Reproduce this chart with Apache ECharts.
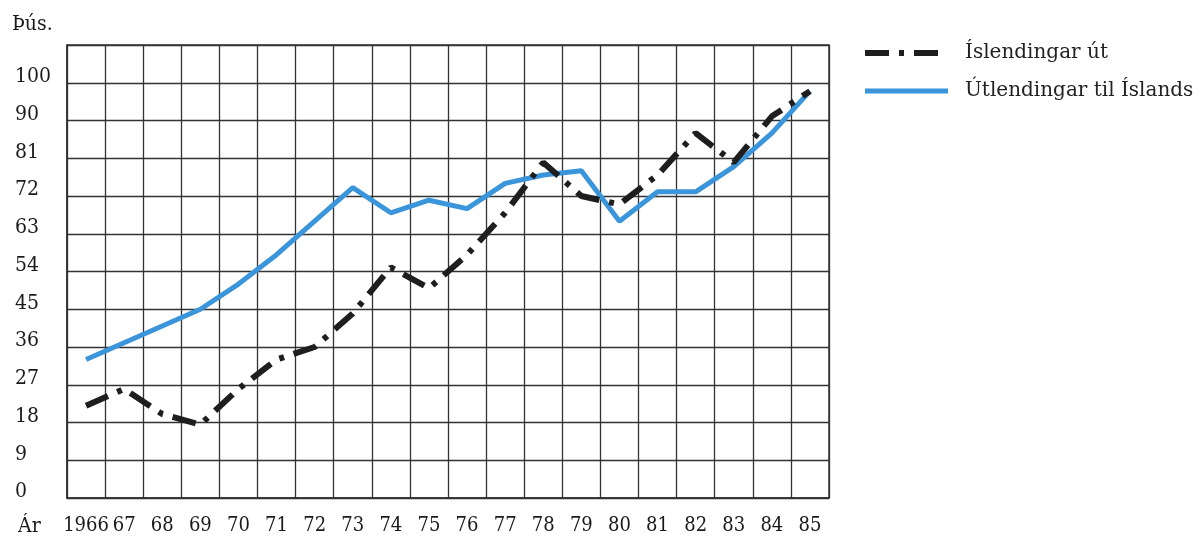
<!DOCTYPE html>
<html>
<head>
<meta charset="utf-8">
<script src="https://cdn.jsdelivr.net/npm/echarts@6/dist/echarts.min.js"></script>
<style>
  html, body { margin: 0; padding: 0; background: #fff; }
  #chart { width: 1196px; height: 539px; }
</style>
</head>
<body>
<div id="chart"></div>
<script>
// Years (x categories)
const years = ['1966','67','68','69','70','71','72','73','74','75','76','77','78','79','80','81','82','83','84','85'];
// Thousands of travellers
const islendingarUt = [22, 26, 20, 17.5, 26, 33, 36, 44, 55, 50, 58, 68, 80, 72, 70, 77, 87, 80, 91, 97];
const utlendingarTilIslands = [33, 37, 41, 45, 51, 58, 66, 74, 68, 71, 69, 75, 77, 78, 66, 73, 73, 79, 87, 97];
// Y tick labels (tick every 9 units; the top labelled tick is printed as 100)
const yTickValues = [0, 9, 18, 27, 36, 45, 54, 63, 72, 81, 90, 99, 108];
const yTickLabels = ['0', '9', '18', '27', '36', '45', '54', '63', '72', '81', '90', '100', ''];
const seriesNames = ['Íslendingar út', 'Útlendingar til Íslands'];

const serifDigits = '"DejaVu Serif Condensed", "DejaVu Serif", serif';
const serifText = '"DejaVu Serif", serif';
const gridColor = '#333';
const blackDash = [24, 10, 5, 10];

const chart = echarts.init(document.getElementById('chart'), null, { renderer: 'canvas' });
chart.setOption({
  backgroundColor: '#fff',
  animation: false,
  grid: { left: 67, right: 367, top: 45, bottom: 41, show: true, borderColor: gridColor, borderWidth: 1.5 },
  legend: {
    orient: 'vertical',
    left: 862,
    top: 43,
    padding: 0,
    itemWidth: 83,
    itemHeight: 14,
    itemGap: 18,
    itemStyle: { opacity: 0 },
    textStyle: { fontFamily: serifText, fontSize: 20, color: '#222', padding: [0, 0, 0, 12] },
    data: [
      { name: seriesNames[0], lineStyle: { width: 6, type: blackDash, color: '#1e1e1e' } },
      { name: seriesNames[1], lineStyle: { width: 5, color: '#3b95db' } }
    ]
  },
  xAxis: {
    type: 'category',
    data: years,
    boundaryGap: true,
    axisLine: { show: true, lineStyle: { color: gridColor, width: 1.5 } },
    axisTick: { show: false },
    axisLabel: { interval: 0, fontFamily: serifDigits, fontSize: 20, color: '#1a1a1a', margin: 18 },
    splitLine: { show: true, interval: 0, lineStyle: { color: gridColor, width: 1.3 } }
  },
  yAxis: {
    type: 'value',
    min: 0,
    max: 108,
    interval: 9,
    axisLine: { show: true, lineStyle: { color: gridColor, width: 1.5 } },
    axisTick: { show: false },
    axisLabel: {
      fontFamily: serifDigits, fontSize: 21, color: '#1a1a1a',
      align: 'left', margin: 52, verticalAlign: 'bottom', lineHeight: 12,
      formatter: function (v) {
        const i = yTickValues.indexOf(v);
        return i >= 0 ? yTickLabels[i] : '';
      }
    },
    splitLine: { show: true, lineStyle: { color: gridColor, width: 1.3 } }
  },
  graphic: [
    { type: 'text', left: 12, top: 14, style: { text: 'Þús.', font: '21px "DejaVu Serif Condensed", "DejaVu Serif", serif', fill: '#1a1a1a' } },
    { type: 'text', left: 18, top: 516, style: { text: 'Ár', font: '21px "DejaVu Serif Condensed", "DejaVu Serif", serif', fill: '#1a1a1a' } }
  ],
  series: [
    {
      name: seriesNames[0],
      type: 'line',
      data: islendingarUt,
      showSymbol: false,
      symbol: 'none',
      z: 3,
      itemStyle: { color: '#1e1e1e' },
      lineStyle: { color: '#1e1e1e', width: 6, type: blackDash, cap: 'butt' }
    },
    {
      name: seriesNames[1],
      type: 'line',
      data: utlendingarTilIslands,
      showSymbol: false,
      symbol: 'none',
      z: 2,
      itemStyle: { color: '#3b95db' },
      lineStyle: { color: '#3b95db', width: 5 }
    }
  ]
});
</script>
</body>
</html>
